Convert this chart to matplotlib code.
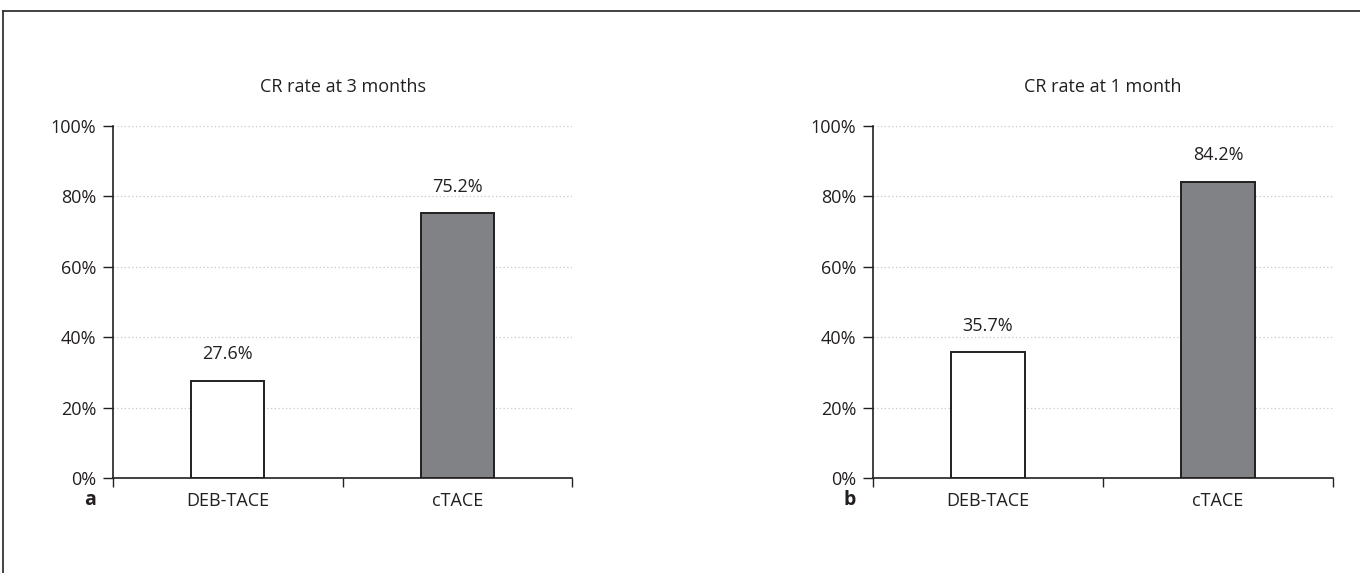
import matplotlib
matplotlib.use('Agg')
import matplotlib.pyplot as plt
from matplotlib.lines import Line2D
from matplotlib.ticker import FixedLocator

# Data
categories = ['DEB-TACE', 'cTACE']
cr_3_months = [27.6, 75.2]
cr_1_month = [35.7, 84.2]
panel_titles = ['CR rate at 3 months', 'CR rate at 1 month']
panel_letters = ['a', 'b']
y_ticks = [0, 20, 40, 60, 80, 100]

DARK = '#231f20'
GREY_BAR = '#808285'
GRID = '#c8c8c8'
FS = 13

plt.rcParams['font.family'] = ['Open Sans', 'DejaVu Sans']

W, H = 1360, 573
fig = plt.figure(figsize=(W / 100, H / 100), dpi=100)

# frame lines (top and left only, like the reference crop)
fig.add_artist(Line2D([3 / W, 1], [1 - 11 / H, 1 - 11 / H], transform=fig.transFigure,
                      color='#333333', lw=1.3))
fig.add_artist(Line2D([3 / W, 3 / W], [0, 1 - 11 / H], transform=fig.transFigure,
                      color='#333333', lw=1.3))

axes_px = [(113, 572), (873, 1333)]
top_px, bottom_px = 126, 478

for (x0, x1), values, title, letter in zip(axes_px, [cr_3_months, cr_1_month],
                                           panel_titles, panel_letters):
    ax = fig.add_axes([x0 / W, 1 - bottom_px / H, (x1 - x0) / W, (bottom_px - top_px) / H])
    xs = list(range(len(categories)))
    colors = ['white', GREY_BAR]
    ax.bar(xs, values, width=0.318, color=colors, edgecolor=DARK, linewidth=1.4, zorder=3)
    for x, v in zip(xs, values):
        ax.annotate(f'{v:.1f}%', (x, v), xytext=(0, 19), textcoords='offset points',
                    ha='center', va='center', fontsize=FS, color=DARK)

    ax.set_xlim(-0.5, 1.5)
    ax.set_ylim(0, 100)
    ax.set_yticks(y_ticks)
    ax.set_yticklabels([f'{t}%' for t in y_ticks])
    ax.xaxis.set_major_locator(FixedLocator([-0.5, 0.5, 1.5]))
    ax.xaxis.set_major_formatter(plt.NullFormatter())
    ax.xaxis.set_minor_locator(FixedLocator(xs))
    ax.set_xticklabels(categories, minor=True)
    ax.tick_params(axis='x', which='major', length=6.5, width=1, color=DARK, direction='out')
    ax.tick_params(axis='x', which='minor', length=0, pad=10, labelsize=FS, labelcolor=DARK)
    ax.tick_params(axis='y', length=7, width=1, color=DARK, pad=5, labelsize=FS,
                   labelcolor=DARK)

    for side in ['top', 'right']:
        ax.spines[side].set_visible(False)
    for side in ['left', 'bottom']:
        ax.spines[side].set_color(DARK)
        ax.spines[side].set_linewidth(1.2)
    ax.yaxis.grid(True, linestyle=(0, (1, 2)), color=GRID, linewidth=0.9, zorder=0)
    ax.set_axisbelow(True)

    fig.text((x0 + x1) / 2 / W, 1 - 87 / H, title, ha='center', va='center',
             fontsize=FS, color=DARK)
    fig.text((x0 - 23) / W, 1 - 500 / H, letter, ha='center', va='center',
             fontsize=14, fontweight='bold', color=DARK)

fig.savefig('out.png', dpi=100, facecolor='white')
